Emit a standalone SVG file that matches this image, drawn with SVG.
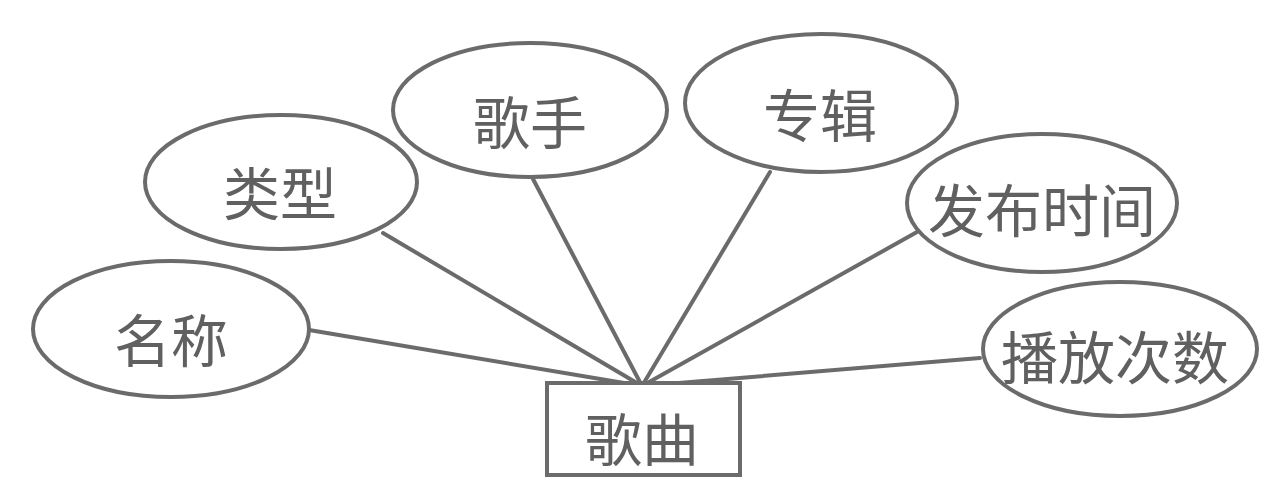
<svg xmlns="http://www.w3.org/2000/svg" width="1280" height="486" viewBox="0 0 1280 486">
<style>
.s{fill:#fff;stroke:#6b6b6b;stroke-width:4}
.c line{stroke:#6b6b6b;stroke-width:4;stroke-linecap:round}
text{font-family:"Noto Sans CJK SC","Noto Sans",sans-serif;font-size:57px;fill:#606060;text-anchor:middle;dominant-baseline:central}
</style>
<rect width="1280" height="486" fill="#fff"/>
<g id="connectors" class="c">
<line x1="309" y1="330" x2="642" y2="386"/>
<line x1="383" y1="233" x2="642" y2="386"/>
<line x1="533" y1="179" x2="642" y2="386"/>
<line x1="770" y1="172" x2="642" y2="386"/>
<line x1="917" y1="232" x2="642" y2="386"/>
<line x1="980" y1="358" x2="642" y2="386"/>
</g>
<g id="song"><rect class="s" x="547" y="383" width="193" height="92"/><text x="642" y="436">歌曲</text></g>
<g id="name"><ellipse class="s" cx="171" cy="329" rx="138" ry="68"/><text x="171" y="337">名称</text></g>
<g id="type"><ellipse class="s" cx="281" cy="182" rx="136" ry="67"/><text x="280" y="190">类型</text></g>
<g id="singer"><ellipse class="s" cx="530" cy="110" rx="137" ry="67"/><text x="530" y="119">歌手</text></g>
<g id="album"><ellipse class="s" cx="821" cy="103" rx="136" ry="69"/><text x="820" y="112">专辑</text></g>
<g id="release"><ellipse class="s" cx="1042" cy="203" rx="135" ry="69"/><text x="1042" y="207">发布时间</text></g>
<g id="plays"><ellipse class="s" cx="1120" cy="349" rx="137" ry="67"/><text x="1115" y="354">播放次数</text></g>
</svg>
